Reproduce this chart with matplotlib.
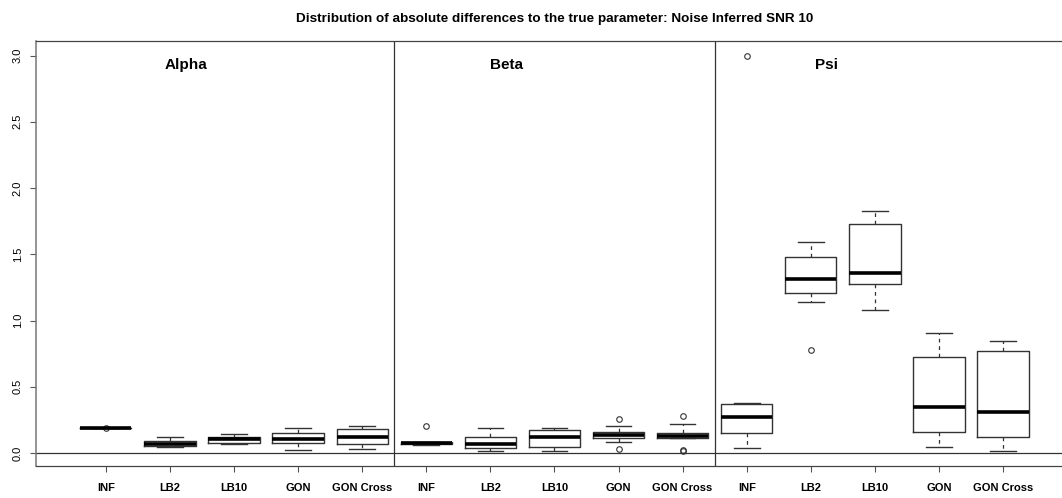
import matplotlib.pyplot as plt

plt.rcParams['font.family'] = ['Liberation Sans', 'DejaVu Sans']

# Box summaries read per method: whisker low, Q1, median, Q3, whisker high, outliers
methods = ['INF', 'LB2', 'LB10', 'GON', 'GON Cross']
panels = ['Alpha', 'Beta', 'Psi']

alpha_low = [0.185, 0.045, 0.066, 0.025, 0.030]
alpha_q1 = [0.186, 0.055, 0.076, 0.078, 0.066]
alpha_med = [0.188, 0.068, 0.103, 0.103, 0.121]
alpha_q3 = [0.190, 0.088, 0.123, 0.154, 0.184]
alpha_high = [0.191, 0.123, 0.144, 0.189, 0.201]
alpha_out = [[0.19], [], [], [], []]

beta_low = [0.060, 0.012, 0.012, 0.083, 0.110]
beta_q1 = [0.070, 0.035, 0.048, 0.114, 0.110]
beta_med = [0.078, 0.066, 0.123, 0.134, 0.131]
beta_q3 = [0.085, 0.123, 0.175, 0.157, 0.154]
beta_high = [0.085, 0.190, 0.190, 0.200, 0.220]
beta_out = [[0.20], [], [], [0.26, 0.03], [0.28, 0.017, 0.022]]

psi_low = [0.035, 1.141, 1.082, 0.042, 0.017]
psi_q1 = [0.154, 1.207, 1.274, 0.160, 0.122]
psi_med = [0.270, 1.310, 1.359, 0.346, 0.308]
psi_q3 = [0.368, 1.479, 1.732, 0.727, 0.772]
psi_high = [0.380, 1.595, 1.823, 0.908, 0.848]
psi_out = [[3.0], [0.778], [], [], []]

lows = alpha_low + beta_low + psi_low
q1s = alpha_q1 + beta_q1 + psi_q1
meds = alpha_med + beta_med + psi_med
q3s = alpha_q3 + beta_q3 + psi_q3
highs = alpha_high + beta_high + psi_high
outs = alpha_out + beta_out + psi_out

stats = []
for i in range(len(meds)):
    stats.append({'whislo': lows[i], 'q1': q1s[i], 'med': meds[i],
                  'q3': q3s[i], 'whishi': highs[i], 'fliers': outs[i]})

fig = plt.figure(figsize=(10.62, 4.98), dpi=100)
ax = fig.add_axes([0.0339, 0.0643, 0.9661, 0.8534])

positions = list(range(1, len(stats) + 1))
ax.bxp(stats, positions=positions, widths=0.8, showfliers=True,
       boxprops=dict(color='#333333', linewidth=1.0),
       medianprops=dict(color='black', linewidth=2.6, solid_capstyle='butt'),
       whiskerprops=dict(color='#333333', linewidth=0.9, linestyle=(0, (3, 3))),
       capprops=dict(color='#333333', linewidth=1.0),
       flierprops=dict(marker='o', markersize=4, markerfacecolor='none',
                       markeredgecolor='#333333', markeredgewidth=0.8))

# zero reference and panel separators
ax.axhline(0, color='#333333', linewidth=0.9)
ax.axvline(5.5, color='#333333', linewidth=0.9)
ax.axvline(10.5, color='#333333', linewidth=0.9)

for k, name in enumerate(panels):
    ax.text(2.25 + 5 * k, 2.93, name, ha='center', va='center',
            fontsize=11, fontweight='bold')

ax.set_xlim(-0.09, 15.92)
ax.set_ylim(-0.098, 3.11)
ax.set_xticks(positions)
ax.set_xticklabels(methods * 3, fontsize=8, fontweight='bold')
ax.set_yticks([0.0, 0.5, 1.0, 1.5, 2.0, 2.5, 3.0])
ax.set_yticklabels(['0.0', '0.5', '1.0', '1.5', '2.0', '2.5', '3.0'],
                   rotation=90, va='center', fontsize=8)
ax.tick_params(axis='both', length=4.5, width=0.8, color='#555555')
ax.tick_params(axis='x', pad=8)
ax.tick_params(axis='y', pad=5)
ax.spines['right'].set_visible(False)
ax.spines['left'].set_color('#777777')
ax.spines['left'].set_linewidth(1.1)
for s in ['top', 'bottom']:
    ax.spines[s].set_color('#444444')
    ax.spines[s].set_linewidth(0.9)

fig.suptitle('Distribution of absolute differences to the true parameter: Noise Inferred SNR 10',
             x=0.522, y=0.974, fontsize=9.7, fontweight='bold')

plt.savefig('out.png', dpi=100)
